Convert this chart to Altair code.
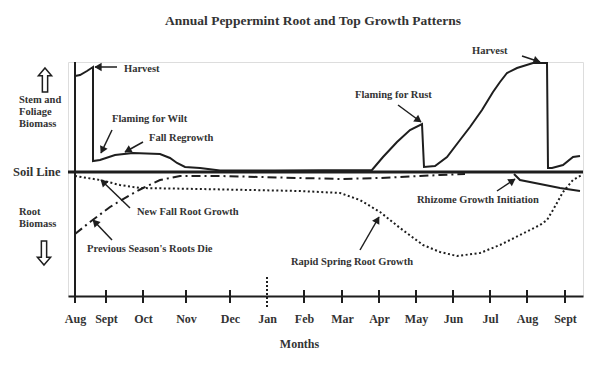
import math
import altair as alt
import pandas as pd

# ---------------- data (timeline units: 0 = August at the start; soil line = 0) -------------
month_labels = ["Aug", "Sept", "Oct", "Nov", "Dec", "Jan", "Feb", "Mar",
                "Apr", "May", "Jun", "Jul", "Aug", "Sept"]
month_pos = [0, 31, 68, 111, 155, 192, 229, 267, 304, 341, 378, 415, 452, 490]
jan_pos = 192

title_text = "Annual Peppermint Root and Top Growth Patterns"

# Stem and foliage biomass (above soil line)
top_x = [0, 5, 12, 18, 18, 25, 40, 58, 85, 95, 102, 110, 125, 145, 200, 297,
         308, 322, 335, 347, 349, 360, 372, 385, 395, 407, 418, 425, 432, 442,
         458, 472, 473, 477, 488, 498, 505]
top_y = [96, 97, 101, 105, 11, 12, 17, 19, 18, 14, 9, 5, 4, 1.5, 1.5, 2,
         15, 30, 42, 48, 5, 6, 15, 32, 45, 62, 80, 90, 99, 104,
         109, 109, 4, 4, 7, 15, 16]

# New root growth (dotted)
new_root_x = [0, 25, 45, 65, 125, 225, 265, 285, 305, 325, 348, 365, 382,
              405, 425, 445, 465, 472, 478, 488, 498, 507]
new_root_y = [-4, -8, -13, -16, -17, -19, -21, -28, -40, -56, -73, -80, -84,
              -81, -73, -63, -53, -48, -38, -20, -8, -3]

# Previous season's roots (dash-dot)
old_root_x = [0, 15, 35, 55, 68, 85, 105, 145, 225, 265, 305, 345, 365, 390]
old_root_y = [-62, -50, -35, -23, -16, -8, -4, -4, -6, -7, -6, -4, -3, -2]

# Rhizome growth (solid, below soil line)
rhizome_x = [439, 445, 465, 485, 505]
rhizome_y = [-2, -8, -12, -16, -19]

# Annotations
ann_text = ["Harvest", "Harvest", "Flaming for Rust", "Flaming for Wilt",
            "Fall Regrowth", "New Fall Root Growth", "Previous Season's Roots Die",
            "Rhizome Growth Initiation", "Rapid Spring Root Growth"]
ann_tx = [49, 397, 280, 37, 74, 62, 12, 342, 216]
ann_ty = [103, 121, 77, 53, 34, -40, -77, -28, -90]
arrow_x1 = [42, 447, 323, 37, 68, 55, 37, 422, 285]
arrow_y1 = [105, 116, 67, 42, 30, -36, -68, -19, -78]
arrow_x2 = [20, 465, 346, 26, 50, 26, 18, 440, 304]
arrow_y2 = [105, 110, 50, 19, 20, -8, -48, -7, -45]

side_text = ["Stem and", "Foliage", "Biomass", "Root", "Biomass"]
side_x = [-56, -56, -56, -56, -56]
side_y = [72, 60, 48, -40, -52]

FONT = "Liberation Serif"
INK = "#1e1e1e"
TXT = "#333333"

X_DOMAIN = [-7, 508]
Y_DOMAIN = [-124, 110]
xs = alt.Scale(domain=X_DOMAIN, nice=False, zero=False)
ys = alt.Scale(domain=Y_DOMAIN, nice=False, zero=False)

label_expr = ("[" + ",".join("'%s'" % m for m in month_labels) + "][indexof(["
              + ",".join(str(p) for p in month_pos) + "], datum.value)]")

base_axis = alt.Axis(values=month_pos, labelExpr=label_expr, grid=False, ticks=False,
                     tickSize=0, domain=True, domainColor=INK, domainWidth=2,
                     labelFont=FONT, labelFontWeight="bold", labelFontSize=12,
                     labelColor=TXT, labelPadding=22, labelBaseline="middle",
                     labelFlush=False, labelOverlap=False, labelBound=False,
                     title="Months", titleFont=FONT, titleFontWeight="bold",
                     titleFontSize=12, titleColor=TXT, titleX=231, titleY=47,
                     titleBaseline="middle")

X = lambda f: alt.X(f, type="quantitative", scale=xs, axis=base_axis)
Y = lambda f: alt.Y(f, type="quantitative", scale=ys, axis=None)

# -------------- layers ------------------
top_df = pd.DataFrame({"x": top_x, "y": top_y, "i": range(len(top_x))})
top_line = alt.Chart(top_df).mark_line(color=INK, strokeWidth=2).encode(
    x=X("x"), y=Y("y"), order="i:Q")

new_root = alt.Chart(pd.DataFrame({"x": new_root_x, "y": new_root_y})).mark_line(
    color=INK, strokeWidth=2, strokeDash=[2, 2.5]).encode(x=X("x"), y=Y("y"))

old_root = alt.Chart(pd.DataFrame({"x": old_root_x, "y": old_root_y})).mark_line(
    color=INK, strokeWidth=2, strokeDash=[9, 4, 2, 4]).encode(x=X("x"), y=Y("y"))

rhizome = alt.Chart(pd.DataFrame({"x": rhizome_x, "y": rhizome_y})).mark_line(
    color=INK, strokeWidth=2).encode(x=X("x"), y=Y("y"))

soil = alt.Chart(pd.DataFrame({"y": [0]})).mark_rule(color=INK, strokeWidth=3).encode(
    y=Y("y"))

yaxis = alt.Chart(pd.DataFrame({"x": [0], "y": [Y_DOMAIN[0]], "y2": [Y_DOMAIN[1]]})).mark_rule(
    color=INK, strokeWidth=2).encode(x=X("x"), y=Y("y"), y2="y2")

tick_df = pd.DataFrame({"x": [p for p in month_pos if p != jan_pos]})
tick_df["y"] = -118
tick_df["y2"] = -131
ticks = alt.Chart(tick_df).mark_rule(color=INK, strokeWidth=2).encode(
    x=X("x"), y=Y("y"), y2="y2")

jan = alt.Chart(pd.DataFrame({"x": [jan_pos], "y": [-105], "y2": [-135]})).mark_rule(
    color=INK, strokeWidth=2, strokeDash=[2, 2]).encode(x=X("x"), y=Y("y"), y2="y2")

# annotation arrows
arr = pd.DataFrame({"x": arrow_x1, "y": arrow_y1, "x2": arrow_x2, "y2": arrow_y2})
arrow_lines = alt.Chart(arr).mark_rule(color=INK, strokeWidth=1.5).encode(
    x=X("x"), y=Y("y"), x2="x2", y2="y2")
heads = []
for x1, y1, x2, y2 in zip(arrow_x1, arrow_y1, arrow_x2, arrow_y2):
    dx, dy = x2 - x1, y2 - y1
    L = math.hypot(dx, dy)
    ang = math.degrees(math.atan2(dx, dy)) % 360
    heads.append({"x": x2 - 3 * dx / L, "y": y2 - 3 * dy / L, "a": ang})
arrow_heads = alt.Chart(pd.DataFrame(heads)).mark_point(
    shape="triangle-up", filled=True, color=INK, size=70, opacity=1).encode(
    x=X("x"), y=Y("y"), angle=alt.Angle("a:Q", scale=None))

ann = alt.Chart(pd.DataFrame({"t": ann_text, "x": ann_tx, "y": ann_ty})).mark_text(
    font=FONT, fontWeight="bold", fontSize=10.5, color=TXT, align="left",
    baseline="middle").encode(x=X("x"), y=Y("y"), text="t:N")

side = alt.Chart(pd.DataFrame({"t": side_text, "x": side_x, "y": side_y})).mark_text(
    font=FONT, fontWeight="bold", fontSize=10.5, color=TXT, align="left",
    baseline="middle").encode(x=X("x"), y=Y("y"), text="t:N")

soil_lbl = alt.Chart(pd.DataFrame({"t": ["Soil Line"], "x": [-62], "y": [0]})).mark_text(
    font=FONT, fontWeight="bold", fontSize=12.5, color=TXT, align="left",
    baseline="middle").encode(x=X("x"), y=Y("y"), text="t:N")

title = alt.Chart(pd.DataFrame({"t": [title_text], "x": [238], "y": [151]})).mark_text(
    font=FONT, fontWeight="bold", fontSize=13.5, color=TXT, align="center",
    baseline="middle").encode(x=X("x"), y=Y("y"), text="t:N")

UP = "M0,-1L0.55,-0.35L0.22,-0.35L0.22,1L-0.22,1L-0.22,-0.35L-0.55,-0.35Z"
DOWN = "M0,1L0.55,0.35L0.22,0.35L0.22,-1L-0.22,-1L-0.22,0.35L-0.55,0.35Z"
up_arrow = alt.Chart(pd.DataFrame({"x": [-30], "y": [92]})).mark_point(
    shape=UP, filled=False, stroke=INK, strokeWidth=1.5, size=576, opacity=1).encode(
    x=X("x"), y=Y("y"))
down_arrow = alt.Chart(pd.DataFrame({"x": [-31], "y": [-81]})).mark_point(
    shape=DOWN, filled=False, stroke=INK, strokeWidth=1.5, size=576, opacity=1).encode(
    x=X("x"), y=Y("y"))

chart = alt.layer(
    top_line, new_root, old_root, rhizome, soil, yaxis, ticks, jan,
    arrow_lines, arrow_heads, ann, side, soil_lbl, title, up_arrow, down_arrow
).properties(
    width=515, height=234,
    autosize=alt.AutoSizeParams(type="none"),
    padding={"left": 60, "top": 54, "right": 9, "bottom": 65},
).configure_view(stroke=None).configure_axisX(labelOverlap=False).configure(background="white")

chart.save("out.html", embed_options={"renderer": "svg", "actions": False})
